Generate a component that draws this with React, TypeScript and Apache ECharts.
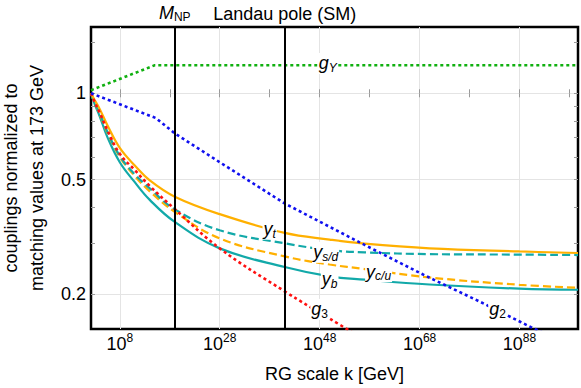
import React, { useEffect, useRef } from "react";
import * as echarts from "echarts";

// x values are log10(k / GeV); y values are couplings normalized to 1 at 173 GeV
const logK = [2.24, 3, 4, 5.5, 8, 11, 14, 19, 28, 41, 50, 57, 70, 88, 99.7];
const yT = [1, 0.945, 0.88, 0.775, 0.645, 0.56, 0.497, 0.436, 0.379, 0.326, 0.309, 0.299, 0.288, 0.281, 0.2775];
const ySD = [1, 0.925, 0.85, 0.735, 0.605, 0.522, 0.466, 0.394, 0.333, 0.3, 0.284, 0.279, 0.275, 0.274, 0.273];
const yCU = [1, 0.925, 0.845, 0.73, 0.6, 0.515, 0.455, 0.386, 0.312, 0.27, 0.253, 0.244, 0.228, 0.215, 0.21];
const yB = [1, 0.915, 0.83, 0.705, 0.575, 0.49, 0.425, 0.356, 0.288, 0.248, 0.23, 0.224, 0.2155, 0.2085, 0.2066];
const g3K = [2.24, 3, 4, 5.5, 8, 11, 14, 19, 28, 41, 50, 57];
const g3 = [1, 0.93, 0.855, 0.745, 0.615, 0.54, 0.475, 0.395, 0.288, 0.204, 0.164, 0.138];
const g2K = [2.24, 15.2, 19, 28, 41, 57, 69, 80, 90.3, 100];
const g2 = [1, 0.82, 0.725, 0.575, 0.413, 0.296, 0.232, 0.188, 0.153, 0.128];
const gYK = [2.24, 15, 99.7];
const gY = [1.025, 1.252, 1.252];

const xMajor = [8, 28, 48, 68, 88];
const xMinor = [18, 38, 58, 78, 98];
const yMajor = [0.2, 0.5, 1];
const yMinor = [0.3, 0.4, 0.6, 0.7, 0.8, 0.9, 1.5];

const mNP = 19; // log10 of new-physics scale
const landau = 41; // log10 of SM Landau pole

const X_MIN = 2.24;
const X_MAX = 99.7;
const Y_MIN = 0.1508;
const Y_MAX = 1.702;

const FONT = "'Liberation Sans', Arial, Helvetica, sans-serif";
const ORANGE = "#ffb000";
const TEAL = "#12a9a9";
const RED = "#ff1010";
const BLUE = "#1010f0";
const GREEN = "#10b010";

const lg = (v: number) => Math.log10(v);

const rich = {
  i: { fontFamily: FONT, fontSize: 18, fontStyle: "italic", color: "#000", verticalAlign: "middle" },
  s: { fontFamily: FONT, fontSize: 12, fontStyle: "italic", color: "#000", verticalAlign: "middle", padding: [9, 0, 0, 0] },
  n: { fontFamily: FONT, fontSize: 12, color: "#000", verticalAlign: "middle", padding: [9, 0, 0, 0] },
};

function makeLabel(x: number, y: number, text: string) {
  return {
    symbol: "circle",
    symbolSize: 0,
    silent: true,
    z: 20,
    data: [{ coord: [x, lg(y)] }],
    label: {
      show: true,
      position: "inside",
      formatter: text,
      rich,
      backgroundColor: "#fff",
      padding: [0, 1, 0, 1],
    },
  };
}

function lineSeries(xs: number[], ys: number[], color: string, type: any, width: number, smooth: boolean, label: any) {
  return {
    type: "line",
    data: xs.map((x, i) => [x, lg(ys[i])]),
    showSymbol: false,
    symbol: "none",
    smooth: smooth ? 0.4 : false,
    clip: true,
    lineStyle: { color, width, type, cap: "butt" },
    markPoint: label,
    z: 3,
  };
}

const tickAxisX = (position: string) => ({
  type: "value",
  position,
  min: X_MIN,
  max: X_MAX,
  axisLine: { show: false },
  axisLabel: { show: false },
  splitLine: { show: false },
  axisTick: { show: true, inside: true, length: 4, customValues: [...xMajor, ...xMinor], lineStyle: { color: "#999", width: 1 } },
});

const tickAxisY = (position: string) => ({
  type: "value",
  position,
  min: lg(Y_MIN),
  max: lg(Y_MAX),
  axisLine: { show: false },
  axisLabel: { show: false },
  splitLine: { show: false },
  axisTick: { show: true, inside: true, length: 4, customValues: [...yMajor, ...yMinor].map(lg), lineStyle: { color: "#999", width: 1 } },
});

export default function App() {
  const ref = useRef<HTMLDivElement>(null);
  useEffect(() => {
    if (!ref.current) return;
    const chart = echarts.init(ref.current, null, { renderer: "svg" });
    const option: any = {
      animation: false,
      backgroundColor: "#fff",
      grid: {
        left: 91,
        right: 3,
        top: 27,
        bottom: 59,
        containLabel: false,
        outerBoundsMode: "none",
        show: true,
        borderColor: "#000",
        borderWidth: 2.5,
        backgroundColor: "transparent",
      },
      xAxis: [
        {
          type: "value",
          position: "bottom",
          min: X_MIN,
          max: X_MAX,
          axisLine: { show: false },
          axisTick: { show: false, customValues: xMajor },
          axisLabel: {
            customValues: xMajor,
            margin: 3,
            formatter: (v: number) => `{b|10}{p|${Math.round(v)}}`,
            rich: {
              b: { fontFamily: FONT, fontSize: 18, color: "#000", verticalAlign: "middle" },
              p: { fontFamily: FONT, fontSize: 12, color: "#000", verticalAlign: "middle", padding: [0, 0, 11, 0] },
            },
          },
          splitLine: { show: true, lineStyle: { color: "#e4e4e4", width: 1 } },
          name: "RG scale k [GeV]",
          nameLocation: "middle",
          nameGap: 36,
          nameTextStyle: { fontFamily: FONT, fontSize: 18, color: "#000" },
        },
        tickAxisX("bottom"),
        tickAxisX("top"),
      ],
      yAxis: [
        {
          type: "value",
          position: "left",
          min: lg(Y_MIN),
          max: lg(Y_MAX),
          axisLine: { show: false },
          axisTick: { show: false, customValues: yMajor.map(lg) },
          axisLabel: {
            customValues: yMajor.map(lg),
            margin: 5,
            fontFamily: FONT,
            fontSize: 18,
            color: "#000",
            formatter: (v: number) => String(Math.round(Math.pow(10, v) * 10) / 10),
          },
          splitLine: { show: true, lineStyle: { color: "#e4e4e4", width: 1 } },
          name: "couplings normalized to\nmatching values at 173 GeV",
          nameLocation: "middle",
          nameRotate: 90,
          nameGap: 31,
          nameTextStyle: { fontFamily: FONT, fontSize: 18, color: "#000", lineHeight: 26 },
        },
        tickAxisY("left"),
        tickAxisY("right"),
      ],
      series: [
        lineSeries(logK, yB, TEAL, "solid", 2.2, true, makeLabel(50, 0.2245, "{i|y}{s|b}")),
        lineSeries(logK, yCU, ORANGE, [8, 4], 2.2, true, makeLabel(59.8, 0.239, "{i|y}{s|c/u}")),
        lineSeries(logK, ySD, TEAL, [8, 4], 2.2, true, makeLabel(49.2, 0.279, "{i|y}{s|s/d}")),
        lineSeries(logK, yT, ORANGE, "solid", 2.2, true, makeLabel(38, 0.336, "{i|y}{s|t}")),
        lineSeries(g3K, g3, RED, [3, 3], 2.6, true, makeLabel(48, 0.1765, "{i|g}{n|3}")),
        {
          ...lineSeries(g2K, g2, BLUE, [3, 3], 2.6, false, makeLabel(83.6, 0.1765, "{i|g}{n|2}")),
          markLine: {
            silent: true,
            symbol: ["none", "none"],
            z: 10,
            lineStyle: { color: "#000", width: 2, type: "solid" },
            label: {
              show: true,
              position: "end",
              distance: 4,
              fontFamily: FONT,
              fontSize: 18,
              color: "#000",
              rich: {
                m: { fontFamily: FONT, fontSize: 18, fontStyle: "italic", color: "#000", verticalAlign: "middle" },
                s: { fontFamily: FONT, fontSize: 12, color: "#000", verticalAlign: "middle", padding: [8, 0, 0, 0] },
              },
            },
            data: [
              { xAxis: mNP, label: { formatter: "{m|M}{s|NP}" } },
              { xAxis: landau, label: { formatter: "Landau pole (SM)" } },
            ],
          },
        },
        lineSeries(gYK, gY, GREEN, [3, 3], 2.6, false, makeLabel(49.6, 1.27, "{i|g}{s|Y}")),
      ],
    };
    chart.setOption(option);
    return () => chart.dispose();
  }, []);
  return (
    <div
      ref={ref}
      style={{ position: "fixed", left: 0, top: 0, width: 581, height: 388, background: "#fff" }}
    />
  );
}
